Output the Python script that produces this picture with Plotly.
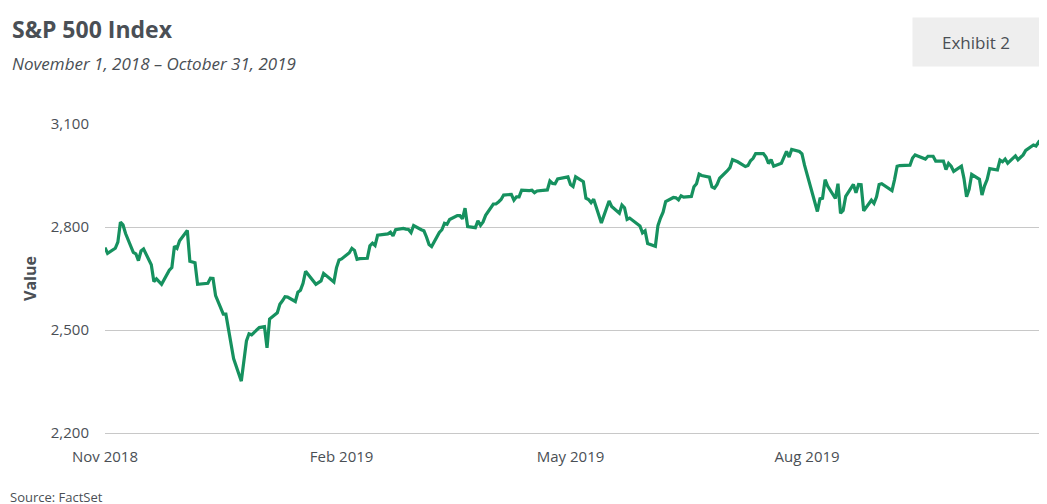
import pandas as pd
import plotly.graph_objects as go

# daily closes, month by month
nov18 = [2740, 2723, 2738, 2756, 2814, 2806, 2781, 2726, 2722, 2702, 2730, 2736, 2690, 2641, 2649, 2633, 2674, 2682, 2744, 2738, 2760]
dec18 = [2790, 2700, 2696, 2633, 2637, 2636, 2651, 2650, 2600, 2546, 2546, 2507, 2467, 2417, 2351, 2468, 2489, 2486, 2507]
jan19 = [2510, 2448, 2532, 2550, 2575, 2585, 2597, 2596, 2583, 2610, 2616, 2636, 2671, 2633, 2639, 2643, 2665, 2644, 2640, 2681, 2704]
feb19 = [2707, 2725, 2738, 2732, 2706, 2708, 2709, 2745, 2753, 2746, 2776, 2780, 2785, 2774, 2792, 2796, 2794, 2793, 2784]
mar19 = [2804, 2792, 2789, 2771, 2749, 2743, 2784, 2792, 2811, 2808, 2822, 2833, 2833, 2824, 2855, 2801, 2798, 2818, 2805, 2815, 2834]
apr19 = [2867, 2867, 2873, 2880, 2893, 2895, 2878, 2888, 2888, 2907, 2906, 2907, 2900, 2905, 2908, 2934, 2927, 2926, 2940, 2943, 2946]
may19 = [2924, 2918, 2946, 2932, 2884, 2880, 2871, 2881, 2812, 2834, 2851, 2876, 2860, 2840, 2864, 2856, 2822, 2826, 2803, 2783, 2789, 2752]
jun19 = [2744, 2804, 2826, 2843, 2874, 2886, 2885, 2879, 2891, 2887, 2889, 2917, 2926, 2954, 2950, 2945, 2917, 2913, 2924, 2942]
jul19 = [2964, 2973, 2996, 2990, 2976, 2979, 2993, 3000, 3014, 3014, 3004, 2985, 2996, 2977, 2986, 3005, 3020, 3004, 3026, 3020, 3013, 2980]
aug19 = [2953, 2932, 2845, 2882, 2884, 2938, 2919, 2883, 2926, 2840, 2848, 2889, 2924, 2900, 2924, 2923, 2847, 2878, 2869, 2888, 2924, 2926]
sep19 = [2906, 2938, 2977, 2979, 2979, 2980, 3001, 3010, 3007, 2998, 3006, 3007, 3006, 2992, 2992, 2967, 2985, 2977, 2962, 2977]
oct19 = [2941, 2888, 2910, 2953, 2939, 2893, 2920, 2938, 2970, 2966, 2995, 2990, 2998, 2986, 3007, 2996, 3004, 3010, 3023, 3039, 3036, 3047, 3038]

holidays = ["2018-11-22", "2018-12-05", "2018-12-25", "2019-01-01", "2019-01-21",
            "2019-02-18", "2019-04-19", "2019-05-27", "2019-07-04", "2019-09-02"]

values = nov18 + dec18 + jan19 + feb19 + mar19 + apr19 + may19 + jun19 + jul19 + aug19 + sep19 + oct19
dates = pd.bdate_range("2018-11-01", "2019-10-31")
dates = dates[~dates.isin(pd.to_datetime(holidays))]

tick_dates = ["2018-11-01", "2019-02-01", "2019-05-01", "2019-08-01", "2019-11-01"]
tick_text = ["Nov 2018", "Feb 2019", "May 2019", "Aug 2019", "Nov 2019"]

fig = go.Figure()
fig.add_trace(go.Scatter(x=dates, y=values, mode="lines",
                         line=dict(color="#16915f", width=3.2)))

font = "Open Sans"
fig.update_layout(
    width=1047, height=504,
    margin=dict(l=97, r=10, t=116, b=79, autoexpand=False),
    plot_bgcolor="white", paper_bgcolor="white",
    showlegend=False,
    font=dict(family=font, color="#4a4f55", size=14),
    xaxis=dict(range=["2018-11-01", "2019-11-01 12:00"], tickvals=tick_dates, ticktext=tick_text,
               showgrid=False, zeroline=False, automargin=False,
               ticks="outside", ticklen=10, tickcolor="white", tickfont=dict(size=15),
               showline=True, linecolor="#c8c8c8", linewidth=1),
    yaxis=dict(range=[2200, 3100], tickvals=[2200, 2500, 2800, 3100], tickformat=",",
               showgrid=True, gridcolor="#c8c8c8", gridwidth=1, zeroline=False, automargin=False,
               ticks="outside", ticklen=12, tickcolor="white", tickfont=dict(size=15),
               title=dict(text="<b>Value</b>", font=dict(size=16), standoff=10)),
    annotations=[
        dict(text="<b>S&P 500 Index</b>", x=0, y=1, xref="paper", yref="paper",
             xanchor="left", yanchor="top", showarrow=False, font=dict(size=23, color="#4a4f55"),
             xshift=-95, yshift=113),
        dict(text="<i>November 1, 2018 – October 31, 2019</i>", x=0, y=1, xref="paper", yref="paper",
             xanchor="left", yanchor="top", showarrow=False, font=dict(size=17, color="#4a4f55"),
             xshift=-95, yshift=74),
        dict(text="Exhibit 2", x=1, y=1, xref="paper", yref="paper", xanchor="center", yanchor="middle",
             showarrow=False, font=dict(size=17, color="#4a4f55"), bgcolor="#eeeeee",
             width=124, height=46, xshift=-69, yshift=82),
        dict(text="Source: FactSet", x=0, y=0, xref="paper", yref="paper", xanchor="left", yanchor="top",
             showarrow=False, font=dict(size=13, color="#4a4f55"), xshift=-97, yshift=-53),
    ],
)

fig.write_html("out.html")
